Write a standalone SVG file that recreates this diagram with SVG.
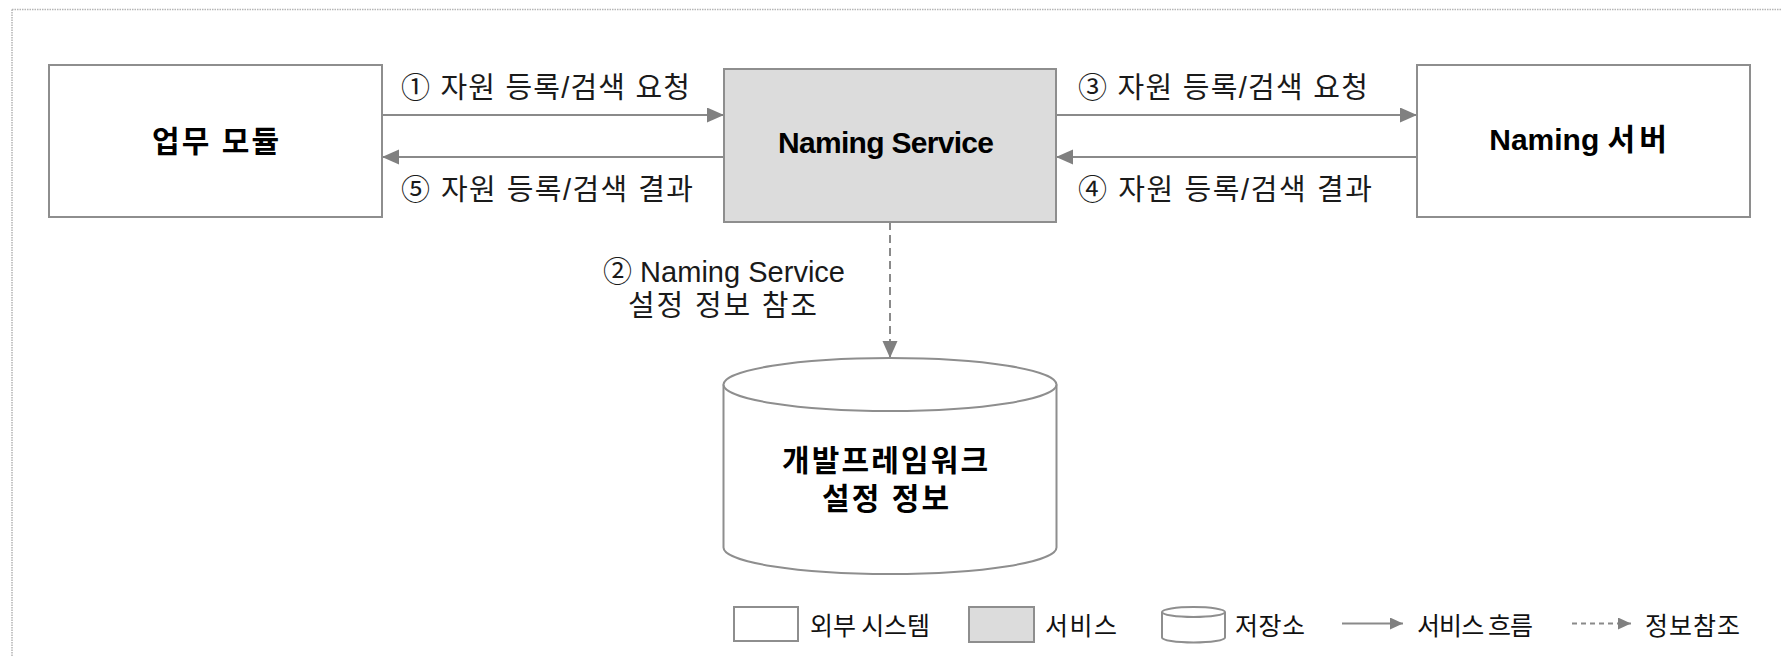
<svg xmlns="http://www.w3.org/2000/svg" width="1782" height="657" viewBox="0 0 1782 657">
  <defs>
    <style>
      .box { fill: #ffffff; stroke: #8e8e8e; stroke-width: 2; }
      .svc { fill: #dcdcdc; stroke: #8e8e8e; stroke-width: 2; }
      .flow { fill: none; stroke: #8a8a8a; stroke-width: 2; }
      .ref { fill: none; stroke: #8a8a8a; stroke-width: 2; stroke-dasharray: 8 5; }
      .lbl { font-family: "Liberation Sans", "Noto Sans CJK KR", sans-serif; font-size: 29px; fill: #1a1a1a; }
      .node { font-family: "Liberation Sans", "Noto Sans CJK KR", sans-serif; font-size: 30px; font-weight: bold; fill: #000000; }
      .leg { font-family: "Noto Sans CJK KR", sans-serif; font-size: 25px; fill: #111111; }
      .frame { fill: none; stroke: #b4b4b4; stroke-width: 1.5; stroke-dasharray: 1.5 1; }
    </style>
    <marker id="arrow" markerUnits="userSpaceOnUse" markerWidth="18" markerHeight="16" refX="17" refY="7.5" orient="auto">
      <path d="M0,0 L17,7.5 L0,15 z" fill="#808080"/>
    </marker>
    <marker id="arrowSmall" markerUnits="userSpaceOnUse" markerWidth="14" markerHeight="14" refX="13" refY="6" orient="auto">
      <path d="M0,0 L13,6 L0,12 z" fill="#808080"/>
    </marker>
  </defs>

  <rect x="0" y="0" width="1782" height="657" fill="#ffffff"/>

  <!-- outer frame (top and left edges) -->
  <g id="frame">
    <line class="frame" x1="12" y1="9.5" x2="1782" y2="9.5"/>
    <line class="frame" x1="12" y1="9.5" x2="12" y2="657"/>
  </g>

  <!-- connectors -->
  <g id="connectors">
    <line class="flow" x1="382" y1="115" x2="724" y2="115" marker-end="url(#arrow)"/>
    <line class="flow" x1="724" y1="157" x2="382" y2="157" marker-end="url(#arrow)"/>
    <line class="flow" x1="1056" y1="115" x2="1417" y2="115" marker-end="url(#arrow)"/>
    <line class="flow" x1="1417" y1="157" x2="1056" y2="157" marker-end="url(#arrow)"/>
    <line class="ref" x1="890" y1="222" x2="890" y2="358" marker-end="url(#arrow)"/>

    <text class="lbl" x="401" y="98" textLength="289" lengthAdjust="spacing">① 자원 등록/검색 요청</text>
    <text class="lbl" x="401" y="200" textLength="292" lengthAdjust="spacing">⑤ 자원 등록/검색 결과</text>
    <text class="lbl" x="1078" y="98" textLength="290" lengthAdjust="spacing">③ 자원 등록/검색 요청</text>
    <text class="lbl" x="1078" y="200" textLength="294" lengthAdjust="spacing">④ 자원 등록/검색 결과</text>
    <text class="lbl" x="603" y="282" textLength="242" lengthAdjust="spacing">② Naming Service</text>
    <text class="lbl" x="628" y="316" textLength="189" lengthAdjust="spacing">설정 정보 참조</text>
  </g>

  <!-- business module -->
  <g id="business-module">
    <rect class="box" x="49" y="65" width="333" height="152"/>
    <text class="node" x="152" y="152" textLength="127" lengthAdjust="spacing">업무 모듈</text>
  </g>

  <!-- naming service -->
  <g id="naming-service">
    <rect class="svc" x="724" y="69" width="332" height="153"/>
    <text class="node" x="778" y="153" font-size="28" textLength="216" lengthAdjust="spacing">Naming Service</text>
  </g>

  <!-- naming server -->
  <g id="naming-server">
    <rect class="box" x="1417" y="65" width="333" height="152"/>
    <text class="node" x="1580" y="150" font-size="29" text-anchor="middle">Naming <tspan letter-spacing="4">서버</tspan></text>
  </g>

  <!-- configuration store -->
  <g id="config-store">
    <path class="box" d="M723.5,384.5 L723.5,547.5 A166.5,26.5 0 0 0 1056.5,547.5 L1056.5,384.5"/>
    <ellipse class="box" cx="890" cy="384.5" rx="166.5" ry="26.5"/>
    <text class="node" x="782" y="471" textLength="206" lengthAdjust="spacing">개발프레임워크</text>
    <text class="node" x="822" y="509" textLength="127" lengthAdjust="spacing">설정 정보</text>
  </g>

  <!-- legend -->
  <g id="legend">
    <rect class="box" x="734" y="607" width="64" height="34"/>
    <text class="leg" x="810" y="635" textLength="120" lengthAdjust="spacing">외부 시스템</text>

    <rect class="svc" x="969" y="607" width="65" height="35"/>
    <text class="leg" x="1045" y="635" textLength="72" lengthAdjust="spacing">서비스</text>

    <path class="box" d="M1162,612 L1162,637.5 A31.5,5 0 0 0 1225,637.5 L1225,612"/>
    <ellipse class="box" cx="1193.5" cy="612" rx="31.5" ry="5"/>
    <text class="leg" x="1235" y="635" textLength="70" lengthAdjust="spacing">저장소</text>

    <line class="flow" x1="1342" y1="623.5" x2="1403" y2="623.5" marker-end="url(#arrowSmall)"/>
    <text class="leg" x="1417" y="635" textLength="116" lengthAdjust="spacing">서비스 흐름</text>

    <line class="flow" x1="1572" y1="623.5" x2="1631" y2="623.5" stroke-dasharray="5 4" marker-end="url(#arrowSmall)"/>
    <text class="leg" x="1645" y="635" textLength="95" lengthAdjust="spacing">정보참조</text>
  </g>
</svg>
